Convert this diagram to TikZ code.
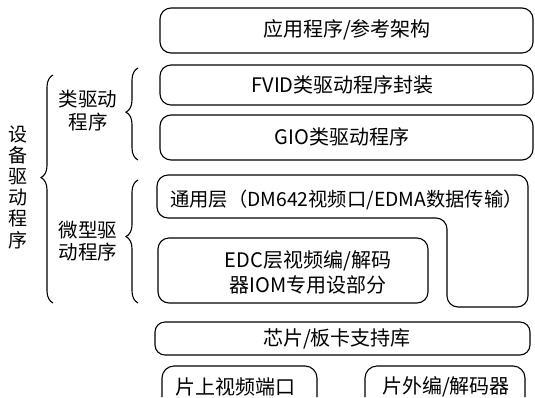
\documentclass[tikz,border=0pt]{standalone}
\usepackage{fontspec}
\setmainfont{Noto Sans CJK SC}
\usetikzlibrary{decorations.pathreplacing}
\begin{document}
\begin{tikzpicture}[x=1pt,y=-1pt,
  box/.style={draw,line width=1.1pt,rounded corners=11pt,inner sep=0pt},
  txt/.style={font=\fontsize{20}{23}\selectfont,inner sep=0pt,align=center},
  brc/.style={decorate,line width=1.1pt,decoration={brace,amplitude=12pt,aspect=#1}},
  brc/.default=0.5
]
\useasboundingbox (0,0) rectangle (535,397);
% boxes
\node[box,minimum width=373pt,minimum height=45pt] (b1) at (346.5,30.5) {};
\node[txt] (t1) at (347,30) {应用程序/参考架构};
\node[box,minimum width=373pt,minimum height=40pt] (b2) at (346.5,85) {};
\node[txt] (t2) at (342.5,85) {FVID类驱动程序封装};
\node[box,minimum width=373pt,minimum height=45pt] (b3) at (346.5,137.5) {};
\node[txt] (t3) at (342,137) {GIO类驱动程序};
% L-shaped general layer
\draw[line width=1.1pt,rounded corners=11pt]
  (157,175) -- (528,175) -- (528,307) -- (447,307) -- (447,218) -- (157,218) -- cycle;
\node[txt,font=\fontsize{19.3}{23}\selectfont] (t4) at (346.5,200) {通用层（DM642视频口/EDMA数据传输）};
\node[box,minimum width=270pt,minimum height=65pt] (b5) at (293,270.5) {};
\node[txt,font=\fontsize{20}{25}\selectfont] (t5) at (308,272) {EDC层视频编/解码\\器IOM专用设部分};
\node[box,rounded corners=10pt,minimum width=375pt,minimum height=33pt] (b6) at (342.5,338.5) {};
\node[txt] (t6) at (337,339) {芯片/板卡支持库};
% bottom boxes (cut by the page edge)
\draw[line width=1.1pt,rounded corners=12pt] (162,397) -- (162,366) -- (317,366) -- (317,397);
\node[txt] (t7) at (235,387) {片上视频端口};
\draw[line width=1.1pt,rounded corners=12pt] (365,397) -- (365,366) -- (525,366) -- (525,397);
\node[txt] (t8) at (446,387) {片外编/解码器};
% braces
\coordinate (B1s) at (53,303); \coordinate (B1e) at (53,75);
\coordinate (B2s) at (138,160); \coordinate (B2e) at (138,68);
\coordinate (B3s) at (138,303); \coordinate (B3e) at (138,180);
\draw[brc=0.55] (B1s) -- (B1e);
\draw[brc=0.52] (B2s) -- (B2e);
\draw[brc=0.54] (B3s) -- (B3e);
% left labels
\node[txt,font=\fontsize{19}{21.2}\selectfont] (L1) at (18,187) {设\\备\\驱\\动\\程\\序};
\node[txt,font=\fontsize{19.5}{23}\selectfont] (L2) at (88,110.5) {类驱动\\程序};
\node[txt,font=\fontsize{19.5}{22}\selectfont] (L3) at (88,241) {微型驱\\动程序};
\end{tikzpicture}
\end{document}
